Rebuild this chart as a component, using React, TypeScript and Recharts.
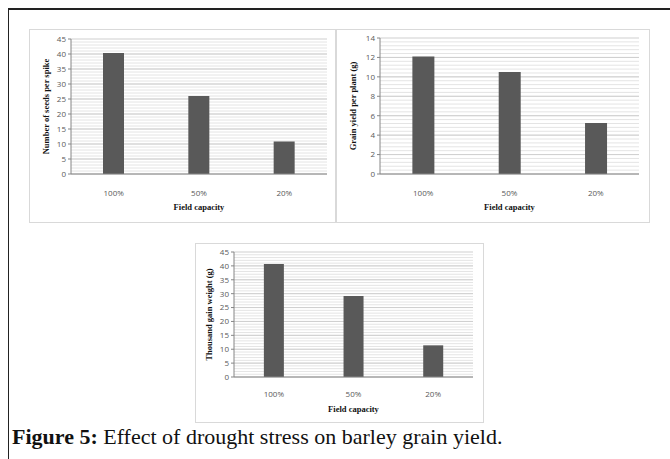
import React from "react";
import { BarChart, Bar, XAxis, YAxis, CartesianGrid, Label } from "recharts";

const categories = ["100%", "50%", "20%"];
const seedsPerSpike = [40.3, 26, 10.8];
const grainYield = [12.1, 10.5, 5.25];
const thousandGrainWeight = [40.7, 29.2, 11.4];

const seedTicks = [0, 5, 10, 15, 20, 25, 30, 35, 40, 45];
const yieldTicks = [0, 2, 4, 6, 8, 10, 12, 14];
const weightTicks = [0, 5, 10, 15, 20, 25, 30, 35, 40, 45];

const tickFont = { fontFamily: "'Open Sans', sans-serif", fontSize: 8, fill: "#595959" };
const titleFont = { fontFamily: "'Liberation Serif', serif", fontSize: 8.5, fontWeight: 700, fill: "#111" };

// minor gridlines, Excel style: five per major step
function minorValues(max: number, step: number) {
  const out: number[] = [];
  for (let v = step; v < max - 1e-9; v += step) out.push(Math.round(v * 100) / 100);
  return out;
}

interface PanelProps {
  left: number;
  top: number;
  width: number;
  height: number;
  values: number[];
  ticks: number[];
  yTitle: string;
  plot: { left: number; right: number; top: number; bottom: number };
  tickGap: number;
  titleOffset: number;
  yTitleDx: number;
}

function Panel(p: PanelProps) {
  const data = categories.map((name, i) => ({ name, value: p.values[i] }));
  const max = p.ticks[p.ticks.length - 1];
  return (
    <div
      style={{
        position: "absolute",
        left: p.left,
        top: p.top,
        width: p.width,
        height: p.height,
        border: "1px solid #d9d9d9",
        boxSizing: "border-box",
        background: "#fff",
      }}
    >
      <BarChart
        width={p.width - 2}
        height={p.height - 2}
        data={data}
        margin={{ top: p.plot.top, right: p.width - 2 - p.plot.right, left: 0, bottom: 0 }}
        barCategoryGap="37.5%"
      >
        <CartesianGrid vertical={false} stroke="#e4e4e4" horizontalValues={minorValues(max, p.ticks[1] / 5)} />
        <CartesianGrid vertical={false} stroke="#cfcfcf" horizontalValues={p.ticks} />
        <XAxis
          dataKey="name"
          axisLine={{ stroke: "#868686" }}
          tickLine={false}
          tick={tickFont}
          tickMargin={p.tickGap}
          height={p.height - 2 - p.plot.bottom}
        >
          <Label value="Field capacity" position="insideBottom" offset={p.titleOffset} style={titleFont} />
        </XAxis>
        <YAxis
          domain={[0, max]}
          ticks={p.ticks}
          width={p.plot.left}
          axisLine={{ stroke: "#868686" }}
          tickLine={{ stroke: "#868686" }}
          tickSize={3}
          tick={tickFont}
          interval={0}
        >
          <Label value={p.yTitle} angle={-90} position="center" dx={p.yTitleDx} style={titleFont} />
        </YAxis>
        <Bar dataKey="value" fill="#595959" isAnimationActive={false} />
      </BarChart>
    </div>
  );
}

export default function App() {
  return (
    <div style={{ position: "absolute", left: 0, top: 0, width: 670, height: 459, background: "#fff", overflow: "hidden" }}>
      <div
        style={{
          position: "absolute",
          left: 8,
          top: 8,
          width: 700,
          height: 480,
          borderTop: "2px solid #222",
          borderLeft: "1.5px solid #222",
        }}
      />
      <Panel
        left={29}
        top={29}
        width={307}
        height={194}
        values={seedsPerSpike}
        ticks={seedTicks}
        yTitle="Number of seeds per spike"
        plot={{ left: 41, right: 297, top: 9, bottom: 144 }}
        tickGap={10}
        titleOffset={12}
        yTitleDx={-5}
      />
      <Panel
        left={336}
        top={29}
        width={314}
        height={194}
        values={grainYield}
        ticks={yieldTicks}
        yTitle="Grain yield per plant (g)"
        plot={{ left: 43, right: 302, top: 8, bottom: 144 }}
        tickGap={10}
        titleOffset={12}
        yTitleDx={-6}
      />
      <Panel
        left={195}
        top={243}
        width={289}
        height={180}
        values={thousandGrainWeight}
        ticks={weightTicks}
        yTitle="Thousand gain weight (g)"
        plot={{ left: 38, right: 277, top: 8, bottom: 133 }}
        tickGap={8}
        titleOffset={10}
        yTitleDx={-6}
      />
      <div
        style={{
          position: "absolute",
          left: 12,
          top: 424,
          fontFamily: "'Liberation Serif', serif",
          fontSize: 22,
          color: "#111",
          whiteSpace: "nowrap",
        }}
      >
        <b>Figure 5:</b> Effect of drought stress on barley grain yield.
      </div>
    </div>
  );
}
